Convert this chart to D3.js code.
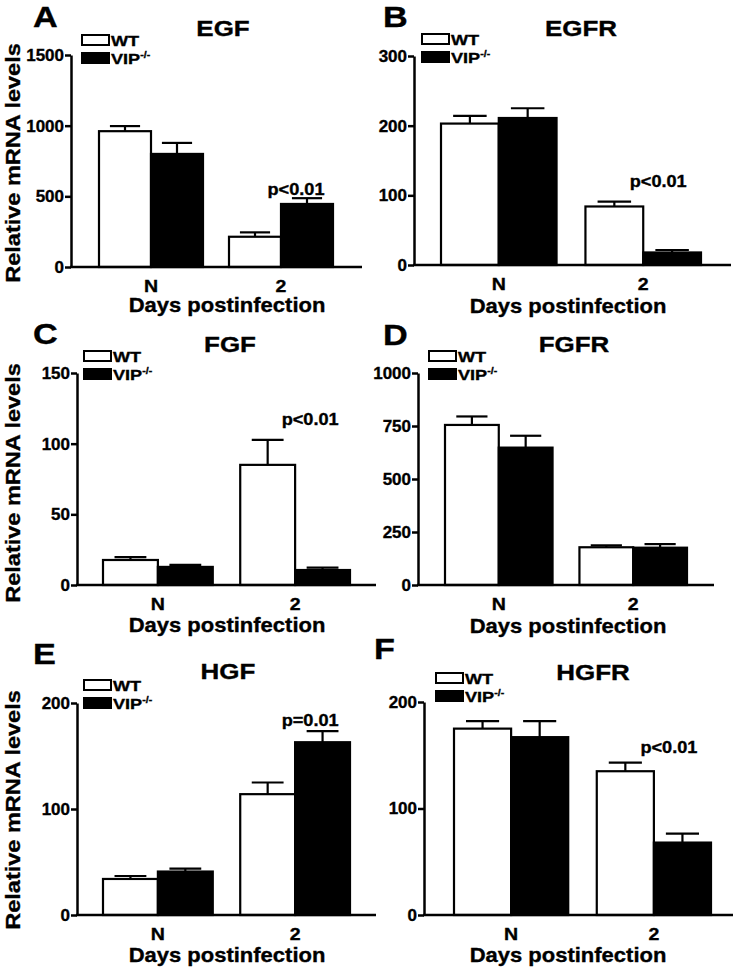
<!DOCTYPE html>
<html>
<head>
<meta charset="utf-8">
<script src="https://cdn.jsdelivr.net/npm/d3@7"></script>
<style>
  body { margin: 0; background: #fff; }
  svg { display: block; font-family: Arial, "Liberation Sans", Helvetica, sans-serif; font-weight: bold; }
  svg text { fill: #000; stroke: #000; stroke-width: 0.35px; }
</style>
</head>
<body>
<div id="chart"></div>
<script>
// values
const categories = ["N", "2"];
const series = ["WT", "VIP"];
const titles = ["EGF", "EGFR", "FGF", "FGFR", "HGF", "HGFR"];
const letters = ["A", "B", "C", "D", "E", "F"];
const wtMeans = [[961, 214], [203, 84], [17.7, 85], [755, 178], [34, 114], [175, 135]];
const wtErrors = [[36, 31], [11, 7], [2, 17.7], [40, 9], [2.8, 11], [7, 8]];
const vipMeans = [[800, 446], [211, 18], [12.8, 10.6], [648, 176], [41, 163], [167, 68]];
const vipErrors = [[78, 41], [14, 3.5], [1.5, 1.7], [56, 17], [2.7, 10.4], [15, 8.4]];
const yMax = [1500, 300, 150, 1000, 200, 200];
const yTicks = [[0, 500, 1000, 1500], [0, 100, 200, 300], [0, 50, 100, 150], [0, 250, 500, 750, 1000], [0, 100, 200], [0, 100, 200]];
const pLabels = ["p<0.01", "p<0.01", "p<0.01", null, "p=0.01", "p<0.01"];
const pLabelHeights = [510, 112, 113, null, 178, 152];
const xTitle = "Days postinfection";
const yTitle = "Relative mRNA levels";

// where each panel sits on the page
const layout = [
  {left: 71, right: 362, top: 55, bottom: 267, barL: 99, barR: 333, legX: 81, legY: 34, titleX: 223, titleY: 36, letterX: 33, letterY: 27, xLabX: 227, xLabY: 312, yLabY: 163},
  {left: 414, right: 731, top: 56, bottom: 265, barL: 441, barR: 701, legX: 421, legY: 33, titleX: 581, titleY: 36, letterX: 383, letterY: 27, xLabX: 568, xLabY: 313},
  {left: 77, right: 376, top: 373, bottom: 585, barL: 103, barR: 350, legX: 83, legY: 350, titleX: 230, titleY: 352, letterX: 33, letterY: 344, xLabX: 227, xLabY: 632, yLabY: 483},
  {left: 418, right: 714, top: 373, bottom: 585, barL: 445, barR: 687, legX: 428, legY: 350, titleX: 574, titleY: 352, letterX: 383, letterY: 345, xLabX: 568, xLabY: 633},
  {left: 77, right: 376, top: 703, bottom: 915, barL: 103, barR: 350, legX: 83, legY: 679, titleX: 228, titleY: 679, letterX: 33, letterY: 664, xLabX: 227, xLabY: 962, yLabY: 810},
  {left: 424, right: 733, top: 702, bottom: 915, barL: 454, barR: 711, legX: 435, legY: 672, titleX: 593, titleY: 680, letterX: 374, letterY: 659, xLabX: 568, xLabY: 962}
];

const W = 742, H = 969;
const svg = d3.select("#chart").append("svg")
  .attr("width", W)
  .attr("height", H);

// text in the figure is a bit wider than Arial, so stretch it horizontally
function addText(g, x, y, str, size, sx, anchor) {
  return g.append("text")
    .attr("transform", "translate(" + x + "," + y + ") scale(" + sx + ",1)")
    .attr("text-anchor", anchor || "middle")
    .style("font-size", size + "px")
    .text(str);
}

titles.forEach((title, i) => {
  const L = layout[i];
  const g = svg.append("g").attr("class", "panel");

  const y = d3.scaleLinear().domain([0, yMax[i]]).range([L.bottom, L.top]);
  const x = d3.scaleBand().domain(categories).range([L.barL, L.barR]).paddingInner(0.2).paddingOuter(0);
  const xs = d3.scaleBand().domain(series).range([0, x.bandwidth()]);

  const rows = categories.map((c, j) => ({
    cat: c,
    values: [
      {key: "WT", mean: wtMeans[i][j], err: wtErrors[i][j]},
      {key: "VIP", mean: vipMeans[i][j], err: vipErrors[i][j]}
    ]
  }));

  // bars with upward error bars
  const grp = g.selectAll(".grp").data(rows).join("g")
    .attr("class", "grp")
    .attr("transform", d => "translate(" + x(d.cat) + ",0)");

  const capW = xs.bandwidth() * 0.58;
  grp.selectAll(".err").data(d => d.values).join("g")
    .attr("class", "err")
    .each(function(d) {
      const cx = xs(d.key) + xs.bandwidth() / 2;
      const e = d3.select(this);
      e.append("line")
        .attr("x1", cx).attr("x2", cx)
        .attr("y1", y(d.mean)).attr("y2", y(d.mean + d.err))
        .attr("stroke", "#000").attr("stroke-width", 2.2);
      e.append("line")
        .attr("x1", cx - capW / 2).attr("x2", cx + capW / 2)
        .attr("y1", y(d.mean + d.err)).attr("y2", y(d.mean + d.err))
        .attr("stroke", "#000").attr("stroke-width", 2.2);
    });

  grp.selectAll("rect").data(d => d.values).join("rect")
    .attr("x", d => xs(d.key))
    .attr("y", d => y(d.mean))
    .attr("width", xs.bandwidth())
    .attr("height", d => L.bottom - y(d.mean))
    .attr("fill", d => d.key === "WT" ? "#fff" : "#000")
    .attr("stroke", "#000")
    .attr("stroke-width", 2.2);

  // y axis
  const yAxis = g.append("g")
    .attr("transform", "translate(" + L.left + ",0)")
    .call(d3.axisLeft(y).tickValues(yTicks[i]).tickSize(6).tickSizeOuter(0).tickPadding(1).tickFormat(d3.format("d")));
  yAxis.select(".domain").attr("stroke-width", 2.5);
  yAxis.selectAll(".tick line").attr("stroke-width", 2.5);
  yAxis.selectAll(".tick text")
    .style("font-size", "17px")
    .style("font-family", "Arial, 'Liberation Sans', sans-serif")
    .style("font-weight", "bold");

  // x axis line + category labels
  g.append("line")
    .attr("x1", L.left - 1).attr("x2", L.right)
    .attr("y1", L.bottom).attr("y2", L.bottom)
    .attr("stroke", "#000").attr("stroke-width", 2.5);

  categories.forEach(c => {
    addText(g, x(c) + x.bandwidth() / 2, L.bottom + 25, c, 17, 1.15);
  });

  addText(g, L.xLabX, L.xLabY, xTitle, 20, 1.1);

  if (L.yLabY !== undefined) {
    g.append("text")
      .attr("transform", "translate(20," + L.yLabY + ") rotate(-90) scale(1.12,1)")
      .attr("text-anchor", "middle")
      .style("font-size", "21px")
      .text(yTitle);
  }

  // title and panel letter
  addText(g, L.titleX, L.titleY, title, 22, 1.18);
  addText(g, L.letterX, L.letterY, letters[i], 29, 1.18, "start");

  // legend
  const leg = g.append("g").attr("transform", "translate(" + L.legX + "," + L.legY + ")");
  series.forEach((s, k) => {
    leg.append("rect")
      .attr("x", 1).attr("y", k * 18 + 1)
      .attr("width", 27).attr("height", 10)
      .attr("fill", s === "WT" ? "#fff" : "#000")
      .attr("stroke", "#000").attr("stroke-width", 2);
    const t = addText(leg, 30, k * 18 + 12, null, 15.5, 1.17, "start");
    if (s === "WT") {
      t.text("WT");
    } else {
      t.append("tspan").text("VIP");
      t.append("tspan").attr("dy", -6).style("font-size", "9px").text("-/-");
    }
  });

  // significance note over the day-2 group
  if (pLabels[i]) {
    addText(g, x("2") + x.bandwidth() / 2 + 15, y(pLabelHeights[i]), pLabels[i], 16.5, 1.1);
  }
});
</script>
</body>
</html>
